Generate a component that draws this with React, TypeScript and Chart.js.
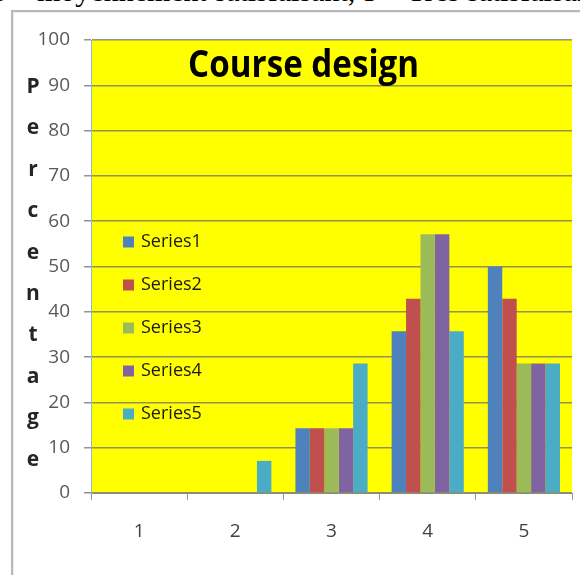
import React, { useEffect, useRef } from 'react';
import { Chart, registerables } from 'chart.js';

Chart.register(...registerables);

const categories = ['1', '2', '3', '4', '5'];
const seriesNames = ['Series1', 'Series2', 'Series3', 'Series4', 'Series5'];
const series1 = [0, 0, 14.3, 35.7, 50];
const series2 = [0, 0, 14.3, 42.9, 42.9];
const series3 = [0, 0, 14.3, 57.1, 28.6];
const series4 = [0, 0, 14.3, 57.1, 28.6];
const series5 = [0, 7.1, 28.6, 35.7, 28.6];
const seriesColors = ['#4F81BD', '#C0504D', '#9BBB59', '#8064A2', '#4BACC6'];
const yMin = 0;
const yMax = 100;
const yStep = 10;
const titleText = 'Course design';
const yAxisLetters = 'Percentage'.split('');
const headerText = '3 – moyennement satisfaisant, 5 – Très satisfaisant';

const FONT = '"Open Sans", "Liberation Sans", sans-serif';

const overlayPlugin = {
  id: 'overlay',
  beforeDraw(chart: any) {
    const { ctx, chartArea: a } = chart;
    ctx.save();
    ctx.fillStyle = '#FFFF00';
    ctx.fillRect(a.left, a.top, a.right - a.left, a.bottom - a.top);
    ctx.restore();
  },
  afterDraw(chart: any) {
    const { ctx, chartArea: a } = chart;
    const w = a.right - a.left;
    // title inside plot
    ctx.save();
    ctx.font = `bold 37px ${FONT}`;
    ctx.fillStyle = '#000';
    ctx.textAlign = 'center';
    ctx.textBaseline = 'alphabetic';
    const m = ctx.measureText(titleText).width;
    const sx = 231 / m;
    ctx.translate(a.left + w * 0.442, a.top + 37);
    ctx.scale(sx, 1);
    ctx.fillText(titleText, 0, 0);
    ctx.restore();

    // legend inside plot
    ctx.save();
    ctx.font = `18px ${FONT}`;
    ctx.textBaseline = 'middle';
    ctx.textAlign = 'left';
    chart.data.datasets.forEach((ds: any, i: number) => {
      const cy = a.top + 202 + i * 43;
      ctx.fillStyle = ds.backgroundColor;
      ctx.fillRect(a.left + 32, cy - 5.5, 11, 11);
      ctx.fillStyle = '#1a1a1a';
      ctx.fillText(ds.label, a.left + 50, cy);
    });
    ctx.restore();

    // stacked y-axis title letters
    ctx.save();
    ctx.font = `bold 21px ${FONT}`;
    ctx.fillStyle = '#262626';
    ctx.textAlign = 'center';
    ctx.textBaseline = 'middle';
    yAxisLetters.forEach((ch, i) => {
      ctx.fillText(ch, 33, a.top + 47 + i * 41.4);
    });
    ctx.restore();
  },
};

export default function App() {
  const ref = useRef<HTMLCanvasElement>(null);

  useEffect(() => {
    const allSeries = [series1, series2, series3, series4, series5];
    const chart = new Chart(ref.current as HTMLCanvasElement, {
      type: 'bar',
      data: {
        labels: categories,
        datasets: allSeries.map((d, i) => ({
          label: seriesNames[i],
          data: d,
          backgroundColor: seriesColors[i],
          borderWidth: 0,
          categoryPercentage: 0.75,
          barPercentage: 1,
        })),
      },
      options: {
        responsive: false,
        animation: false,
        devicePixelRatio: 1,
        layout: { padding: { top: 40, right: 8, left: 0, bottom: 0 } },
        plugins: {
          legend: { display: false },
          tooltip: { enabled: false },
          title: { display: false },
        },
        scales: {
          x: {
            offset: true,
            grid: {
              display: true,
              drawOnChartArea: false,
              drawTicks: true,
              tickLength: 7,
              color: '#9a9a9a',
              offset: true,
            },
            border: { display: true, color: '#8a8a8a', width: 1 },
            ticks: {
              color: '#404040',
              font: { family: FONT, size: 19 },
              padding: 20,
            },
            afterFit(scale: any) {
              scale.height = 82;
            },
          },
          y: {
            min: yMin,
            max: yMax,
            ticks: {
              stepSize: yStep,
              color: '#595959',
              font: { family: FONT, size: 19 },
              padding: 14,
            },
            grid: {
              color: 'rgba(110,110,110,0.75)',
              lineWidth: 1.5,
              tickLength: 7,
              drawTicks: true,
            },
            border: { display: true, color: '#9db4d0', width: 1 },
            afterFit(scale: any) {
              scale.width = 91;
            },
          },
        },
      },
      plugins: [overlayPlugin],
    });
    return () => chart.destroy();
  }, []);

  return (
    <div
      style={{
        position: 'fixed',
        left: 0,
        top: 0,
        width: 580,
        height: 575,
        overflow: 'hidden',
        background: '#fff',
      }}
    >
      <div
        style={{
          position: 'absolute',
          left: -8,
          top: -24,
          fontFamily: '"Liberation Serif", serif',
          fontSize: 30,
          lineHeight: '30px',
          whiteSpace: 'nowrap',
          color: '#000',
        }}
      >
        {headerText}
      </div>
      <div
        style={{
          position: 'absolute',
          left: 11,
          top: 10,
          width: 620,
          height: 620,
          border: '2px solid #b8b8b8',
          boxShadow: 'inset 1px 1px 1px rgba(0,0,0,0.08)',
        }}
      />
      <canvas
        ref={ref}
        width={580}
        height={575}
        style={{ position: 'absolute', left: 0, top: 0, width: 580, height: 575 }}
      />
    </div>
  );
}
